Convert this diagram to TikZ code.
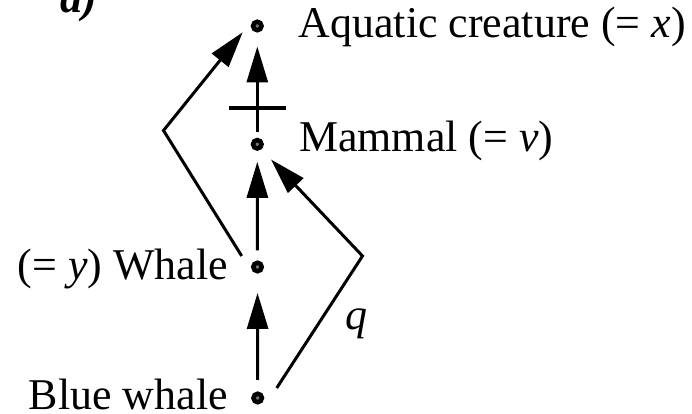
\documentclass[tikz,border=0pt]{standalone}
\usepackage{fontspec}
\setmainfont{Liberation Serif}
\usetikzlibrary{arrows.meta}
\tikzset{
  vertex/.style ={draw, circle, line width=0.045cm, fill=black!55, inner sep=0pt,
                  minimum size=0.085cm},
  txt/.style    ={inner sep=0pt, font=\fontsize{12.5}{15}\selectfont},
  link/.style   ={line width=0.03cm, ->},
  tickbar/.style={fill, rectangle, inner sep=0pt, minimum width=0.57cm,
                  minimum height=0.04cm}
}

\begin{document}
\begin{tikzpicture}[>={Triangle[length=3.6mm,width=2.1mm]}]
  \useasboundingbox (0,0) rectangle (6.92,-4.14);

  \node[txt, anchor=base west] (tag) at (0.60,-0.13) {\textbf{\textit{a)}}};

  \node[vertex] (aq)    at (2.573,-0.26)  {};
  \node[vertex] (mam)   at (2.573,-1.443) {};
  \node[vertex] (whale) at (2.575,-2.67)  {};
  \node[vertex] (blue)  at (2.577,-3.98)  {};

  \node[txt, anchor=base west] (aqtxt)  at (2.98,-0.38)  {Aquatic creature (= \textit{x})};
  \node[txt, anchor=base west] (mamtxt) at (2.985,-1.52) {Mammal (= \textit{v})};
  \node[txt, anchor=base east] (whtxt)  at (2.285,-2.80) {(= \textit{y}) Whale};
  \node[txt, anchor=base east] (bltxt)  at (2.285,-4.10) {Blue whale};
  \node[txt, anchor=base]      (qtxt)   at (3.56,-3.30)  {\textit{q}};

  \coordinate (lbend) at (1.635,-1.305);
  \coordinate (rbend) at (3.625,-2.56);

  \draw[link, shorten <=0.06cm, shorten >=0.14cm] (mam) -- node[tickbar, pos=0.286] (cut) {} (aq);
  \draw[link, shorten <=0.1cm, shorten >=0.11cm] (whale) -- (mam);
  \draw[link, shorten <=0.115cm, shorten >=0.195cm] (blue) -- (whale);

  \draw[link] ([xshift=-0.158cm,yshift=0.11cm]whale.center) -- (lbend)
              -- ([xshift=-0.146cm,yshift=-0.063cm]aq.center);
  \draw[link] ([xshift=0.19cm,yshift=0.10cm]blue.center) -- (rbend)
              -- ([xshift=0.137cm,yshift=-0.152cm]mam.center);
\end{tikzpicture}
\end{document}
